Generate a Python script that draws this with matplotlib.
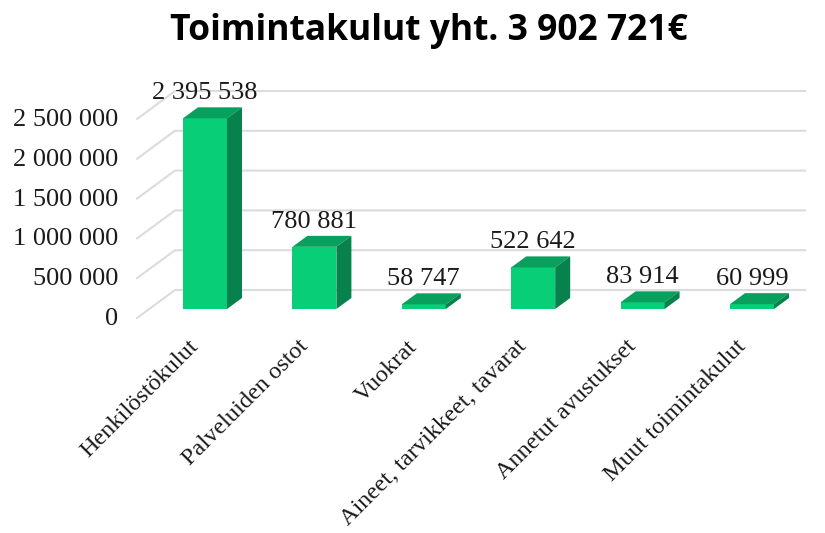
import matplotlib
matplotlib.use('Agg')
import matplotlib.pyplot as plt
from matplotlib.patches import Polygon
from matplotlib.transforms import IdentityTransform

# data
categories = ['Henkilöstökulut', 'Palveluiden ostot', 'Vuokrat',
              'Aineet, tarvikkeet, tavarat', 'Annetut avustukset', 'Muut toimintakulut']
values = [2395538, 780881, 58747, 522642, 83914, 60999]
value_labels = ['2 395 538', '780 881', '58 747', '522 642', '83 914', '60 999']
yticks = [0, 500000, 1000000, 1500000, 2000000, 2500000]
ytick_labels = ['0', '500 000', '1 000 000', '1 500 000', '2 000 000', '2 500 000']

FRONT = '#09CE78'
SIDE = '#07824C'
TOP = '#08A05C'
GRID = '#DCDCDC'
TEXT = '#1a1a1a'
W, H = 825, 533

plt.rcParams['font.family'] = ['Liberation Serif', 'DejaVu Serif']

fig = plt.figure(figsize=(8.25, 5.33), dpi=100, facecolor='white')
# axes placed so that the front plane of the bars sits at y=309 px
ax = fig.add_axes([150.3 / W, (H - 309) / H, 656.4 / W, 199 / H])
ax.set_xlim(-0.5, 5.5)
ax.set_ylim(0, 2500000)
ax.axis('off')

dx, dy = 15, 11
bar_w = 0.402

bars = ax.bar(range(len(values)), values, width=bar_w, color=FRONT, zorder=3)


def poly(pts, color):
    # points are in pixels, the depth faces of the fake 3D bars
    ax.add_patch(Polygon(pts, closed=True, fc=color, ec='none', zorder=3,
                         transform=IdentityTransform(), clip_on=False))


for i, (v, lab) in enumerate(zip(values, value_labels)):
    xl, ytop = ax.transData.transform((i - bar_w / 2, v))
    xr, ybot = ax.transData.transform((i + bar_w / 2, 0))
    poly([(xl, ytop), (xl + dx, ytop + dy), (xr + dx, ytop + dy), (xr, ytop)], TOP)
    poly([(xr, ytop), (xr + dx, ytop + dy), (xr + dx, ybot + dy), (xr, ybot)], SIDE)
    ax.annotate(lab, (i, v), xytext=(0, 25), textcoords='offset pixels', ha='center', va='center',
                fontsize=19, color=TEXT, zorder=4, annotation_clip=False)
    ax.annotate(categories[i], (i, 0), xytext=(-17, -27), textcoords='offset pixels',
                ha='right', va='top', rotation=45, rotation_mode='anchor',
                fontsize=17.5, color=TEXT, annotation_clip=False)

# gridlines on the back wall and the slanted stubs on the left wall
for t, lab in zip(yticks, ytick_labels):
    xb, yb = ax.transData.transform((0, t))
    ax.plot([137, 175, 805], [yb - 9, yb + 19, yb + 19], color=GRID, lw=1.5, zorder=1,
            transform=IdentityTransform(), clip_on=False)
    ax.annotate(lab, (-0.5, t), xytext=(-32, -10), textcoords='offset pixels', ha='right', va='center',
                fontsize=19, color=TEXT, annotation_clip=False)

fig.text(429 / W, 1 - 31 / H, 'Toimintakulut yht. 3 902 721€', ha='center', va='center',
         fontsize=25.5, fontweight='bold', color='black', family=['Open Sans', 'DejaVu Sans'])

fig.savefig('out.png', dpi=100, facecolor='white')
